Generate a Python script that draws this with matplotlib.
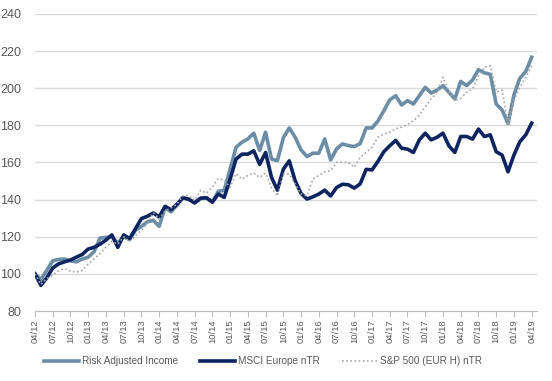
import numpy as np
import matplotlib
matplotlib.use('Agg')
import matplotlib.pyplot as plt

plt.rcParams['font.family'] = ['Liberation Sans Narrow', 'Liberation Sans', 'DejaVu Sans']

# monthly values, 04/12 .. 04/19
risk_adj = [100, 97, 102, 107, 107.8, 108, 107, 106.5, 108, 109,
            112, 119.3, 119.6, 120, 116.5, 120, 118.5, 123.5, 125.6, 128,
            128.9, 125.6, 135.7, 133.4, 137, 141, 140.2, 138.5, 140.5, 141,
            138.8, 144.5, 145, 156.5, 168.2, 170.9, 172.7, 175.8, 166.5, 176.3,
            161.9, 161, 173.3, 178.6, 173.6, 166.8, 163.2, 165, 165, 172.7,
            161.4, 167.3, 170, 169.1, 168.6, 170.2, 178.6, 178.6, 182.3, 187.9,
            193.7, 196, 191, 193.3, 191.5, 196, 200.5, 197.4, 199, 201.4,
            197.8, 194.2, 203.7, 201.4, 204.4, 210, 208.3, 207.5, 191.5, 188.3,
            181, 196.4, 205.4, 209, 216.7]

msci_europe = [100, 93.8, 97.9, 103.2, 105.4, 106.5, 107.5, 109, 110.5, 113.4,
               114.3, 116, 118.2, 121, 114.3, 121, 119, 124.4, 129.8, 131,
               132.8, 130.7, 136.4, 134.6, 137.5, 141, 140.2, 138.2, 140.8, 141,
               138.6, 143, 141.2, 151, 161.8, 164.5, 164.5, 166.3, 159, 165.4,
               152, 145.1, 156.4, 160.9, 150.2, 143.3, 140.3, 141.5, 143, 145.1,
               142, 146.5, 148.3, 148, 146.2, 148.5, 156.3, 156, 160.6, 165.8,
               169, 171.9, 167.7, 167.2, 165.4, 172.2, 175.8, 172.2, 173.6, 175.8,
               169, 165.4, 174, 174, 172.6, 178, 174, 174.9, 165.8, 164,
               155, 164, 171.2, 174.9, 181.2]

sp500 = [100, 94.3, 97.5, 99.5, 101.5, 103, 101.4, 101, 101.8, 105.4,
         108, 111, 114.3, 117.5, 116, 120, 117.5, 120.5, 123.5, 127,
         133, 129.6, 134, 135.5, 137.5, 142, 142.3, 139.5, 145, 143.5,
         146.8, 151.3, 150.6, 146.5, 154, 151, 153, 154.3, 152, 154.3,
         146.5, 142, 153.8, 153.8, 148.4, 143, 142, 151, 153, 155,
         155.6, 160.1, 160.1, 160, 157.4, 162.8, 165.5, 168.2, 173.6, 175.4,
         176.3, 178.1, 179, 180.5, 182.5, 185.5, 190, 194.3, 197.8, 205.9,
         198.5, 193.3, 194.5, 197.8, 199.6, 206.5, 211.3, 212.2, 198, 199,
         181, 193.3, 200.5, 205.9, 212.2]

tick_labels = ['04/12', '07/12', '10/12', '01/13', '04/13', '07/13', '10/13',
               '01/14', '04/14', '07/14', '10/14', '01/15', '04/15', '07/15',
               '10/15', '01/16', '04/16', '07/16', '10/16', '01/17', '04/17',
               '07/17', '10/17', '01/18', '04/18', '07/18', '10/18', '01/19',
               '04/19']

x = np.arange(len(risk_adj))
txt = '#595959'

fig = plt.figure(figsize=(5.52, 3.81), dpi=100)
ax = fig.add_axes([0.0634, 0.1837, 0.9094, 0.7796])

ax.plot(x, risk_adj, color='#6b8ea6', lw=2.6, label='Risk Adjusted Income', zorder=3)
ax.plot(x, msci_europe, color='#0c2560', lw=2.6, label='MSCI Europe nTR', zorder=4)
ax.plot(x, sp500, color='#a6a6a6', lw=1.2, ls=(0, (1, 1.5)), label='S&P 500 (EUR H) nTR', zorder=5)

ax.set_ylim(80, 240)
ax.set_yticks(np.arange(80, 241, 20))
ax.set_xlim(0, 84.9)
ax.set_xticks(np.arange(0, 85, 3))
ax.set_xticklabels(tick_labels, rotation=90)

ax.grid(axis='y', color='#d9d9d9', lw=1)
ax.set_axisbelow(True)
for s in ['top', 'right', 'left']:
    ax.spines[s].set_visible(False)
ax.spines['bottom'].set_color('#bfbfbf')
ax.tick_params(axis='y', length=0, pad=10, labelsize=9, labelcolor=txt)
ax.tick_params(axis='x', length=4, color='#bfbfbf', pad=2, labelsize=6.8, labelcolor=txt)

fig.legend(loc='center', bbox_to_anchor=(0.477, 0.052), ncol=3, frameon=False,
           fontsize=7.2, labelcolor=txt, handlelength=3.5, handletextpad=0.3,
           columnspacing=2.2)

fig.savefig('out.png', dpi=100)
